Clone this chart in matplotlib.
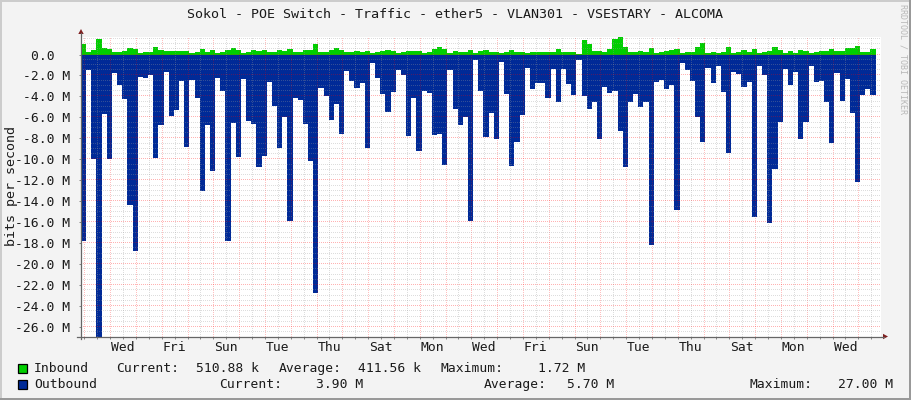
#!/usr/bin/env python3
# -*- coding: utf-8 -*-

import numpy as np
import matplotlib
matplotlib.use('Agg')
import matplotlib.pyplot as plt
from matplotlib.patches import Polygon, Rectangle
from matplotlib.lines import Line2D

title = "Sokol - POE Switch - Traffic - ether5 - VLAN301 - VSESTARY - ALCOMA"
credit = "RRDTOOL / TOBI OETIKER"
y_title = "bits per second"
day_names = ["Wed", "Fri", "Sun", "Tue", "Thu", "Sat", "Mon", "Wed",
	"Fri", "Sun", "Tue", "Thu", "Sat", "Mon", "Wed"]

# megabits per second, one value per 4.8 hour step
inbound = [1.05, 0.2, 0.4, 1.52, 0.67, 0.57, 0.2, 0.28, 0.38, 0.67, 0.57, 0.1, 0.2, 0.2, 0.76, 0.47,
	0.32, 0.38, 0.38, 0.32, 0.32, 0.1, 0.2, 0.57, 0.2, 0.41, 0.13, 0.28, 0.47, 0.63, 0.41, 0.13,
	0.2, 0.41, 0.38, 0.47, 0.2, 0.2, 0.47, 0.38, 0.57, 0.2, 0.2, 0.41, 0.47, 1.05, 0.2, 0.2,
	0.47, 0.63, 0.47, 0.2, 0.2, 0.38, 0.28, 0.38, 0.13, 0.2, 0.38, 0.47, 0.32, 0.1, 0.2, 0.38,
	0.38, 0.38, 0.1, 0.25, 0.57, 0.76, 0.57, 0.1, 0.38, 0.25, 0.25, 0.47, 0.1, 0.38, 0.47, 0.28,
	0.2, 0.1, 0.28, 0.47, 0.28, 0.28, 0.1, 0.2, 0.2, 0.2, 0.28, 0.2, 0.57, 0.2, 0.2, 0.28,
	0.05, 1.43, 1.05, 0.38, 0.32, 0.2, 0.57, 1.52, 1.72, 0.76, 0.2, 0.2, 0.38, 0.28, 0.67, 0.1,
	0.2, 0.38, 0.44, 0.57, 0.1, 0.2, 0.2, 0.76, 1.14, 0.1, 0.2, 0.1, 0.28, 0.76, 0.1, 0.2,
	0.47, 0.28, 0.57, 0.1, 0.2, 0.38, 0.76, 0.47, 0.1, 0.38, 0.1, 0.47, 0.38, 0.1, 0.2, 0.38,
	0.38, 0.57, 0.38, 0.38, 0.67, 0.67, 0.86, 0.2, 0.2, 0.51]

outbound = [17.8, 1.5, 10.0, 27.0, 5.7, 10.0, 1.8, 2.95, 4.2, 14.4, 18.75, 2.1, 2.2, 2.0, 9.9, 6.75,
	1.7, 5.9, 5.3, 2.55, 8.85, 2.4, 4.1, 13.0, 6.75, 11.15, 2.2, 3.5, 17.8, 6.55, 9.8, 2.3,
	6.3, 6.65, 10.75, 9.7, 2.65, 4.95, 8.95, 6.0, 15.9, 4.1, 4.3, 6.65, 10.2, 22.75, 3.15, 4.0,
	6.2, 4.75, 7.6, 1.6, 2.5, 3.15, 2.75, 8.95, 0.85, 2.2, 3.8, 5.5, 3.6, 1.5, 2.0, 7.8,
	4.1, 9.2, 3.45, 3.7, 7.7, 7.6, 10.5, 1.5, 5.15, 6.75, 6.0, 15.9, 0.55, 3.5, 7.9, 5.6,
	8.1, 0.75, 3.8, 10.65, 8.3, 5.8, 1.25, 3.25, 2.75, 2.75, 4.1, 1.35, 4.5, 1.35, 2.85, 3.9,
	0.5, 4.0, 5.15, 4.55, 8.1, 3.05, 3.7, 3.45, 7.25, 10.75, 4.5, 3.8, 5.05, 4.5, 18.2, 2.65,
	2.4, 3.25, 2.95, 14.85, 0.85, 1.5, 2.5, 6.0, 8.3, 1.25, 2.75, 1.05, 3.6, 9.35, 1.7, 1.9,
	3.05, 2.65, 15.5, 1.05, 2.0, 16.1, 10.95, 6.4, 1.4, 2.95, 1.7, 8.1, 6.4, 1.05, 2.65, 2.55,
	4.55, 8.4, 1.8, 4.4, 2.3, 5.6, 12.2, 3.9, 3.25, 3.9]

W = 911
H = 400
FONT = 'DejaVu Sans Mono'
GREEN = '#00CF00'
BLUE = '#002A97'
STEP = 0.2       # days
FIRST_DAY = 0.128  # first midnight, days after the start of the graph
X_MAX = 800/25.8
Y_MIN = -26.9
Y_MAX = 1.72

def fx(px):
	return px/W

def fy(py):
	return 1.0 - py/H

def put(fig, px, py, s, **kw):
	kw.setdefault('fontsize', 9.4)
	kw.setdefault('color', '#1a1a1a')
	kw.setdefault('va', 'baseline')
	fig.text(fx(px), fy(py), s, family=FONT, **kw)

def dots_v(ax, d, col, alpha):
	# one pixel on, one off; agg dashes came out solid
	ys = np.arange(Y_MIN, Y_MAX, 2*(Y_MAX-Y_MIN)/300)
	ax.plot(np.full(ys.shape, d), ys, ',', color=col, alpha=alpha, zorder=4)

def dots_h(ax, v, col, alpha):
	xs = np.arange(0, X_MAX, 2*X_MAX/800)
	ax.plot(xs, np.full(xs.shape, v), ',', color=col, alpha=alpha, zorder=4)

fig = plt.figure(figsize=(W/100, H/100), dpi=100, facecolor='#F3F3F3')

ax = fig.add_axes([fx(81), fy(336.5), 800/W, 300/H], facecolor='white')
for s in ax.spines.values():
	s.set_visible(False)

t = np.arange(len(inbound)+1)*STEP
ax.fill_between(t, np.r_[inbound, inbound[-1]], 0, step='post', color=GREEN, lw=0, zorder=2)
ax.fill_between(t, -np.r_[outbound, outbound[-1]], 0, step='post', color=BLUE, lw=0, zorder=3)

# grid goes over the areas, same as in rrdtool
n_days = 31
midnights = FIRST_DAY + np.arange(n_days)
for d in midnights:
	dots_v(ax, d, '#FF0000', 0.25)
	dots_v(ax, d+0.5, '#999999', 0.33)

y_major = -np.arange(0, 27, 2.0)
y_minor = np.r_[-np.arange(0, 27, 0.5), 0.5, 1.0, 1.5]
for v in y_minor:
	if v % 2 != 0:
		dots_h(ax, v, '#999999', 0.33)
for v in y_major:
	dots_h(ax, v, '#FF0000', 0.3)

ax.set_xlim(0, X_MAX)
ax.set_ylim(Y_MIN, Y_MAX)

ax.set_yticks(y_major)
ax.set_yticklabels(["%.1f M" % v if v != 0 else "0.0  " for v in y_major],
	family=FONT, fontsize=9.4, color='#1a1a1a')

# day names sit at noon, where the half day ticks are too
ax.xaxis.remove_overlapping_locs = False
ax.set_xticks(np.r_[midnights, midnights+0.5])
ax.set_xticklabels([])
label_pos = midnights[1::2][:len(day_names)] + 0.5
ax.set_xticks(label_pos, minor=True)
ax.set_xticklabels(day_names, minor=True, family=FONT, fontsize=9.4, color='#1a1a1a')
ax.tick_params(axis='x', which='major', length=1.5, width=0.72, color='#888888')
ax.tick_params(axis='x', which='minor', length=0, pad=3.5)
ax.tick_params(axis='y', which='major', length=1.5, width=0.72, color='#888888', pad=6)

# axis lines with the little red arrows
axis_col = '#666666'
fig.add_artist(Line2D([fx(81), fx(81)], [fy(339), fy(33)], color=axis_col, lw=0.9))
fig.add_artist(Line2D([fx(77), fx(884)], [fy(336.5), fy(336.5)], color=axis_col, lw=0.9))
fig.add_artist(Polygon([[fx(81), fy(29)], [fx(78.3), fy(34)], [fx(83.7), fy(34)]], closed=True,
	transform=fig.transFigure, fc='#7F1F1F', ec='none'))
fig.add_artist(Polygon([[fx(888), fy(336.5)], [fx(883), fy(333.8)], [fx(883), fy(339.2)]], closed=True,
	transform=fig.transFigure, fc='#7F1F1F', ec='none'))

put(fig, 455, 18, title, ha='center', fontsize=9.6)
put(fig, 12, 185.5, y_title, ha='center', va='center', rotation=90, fontsize=9.6)
put(fig, 903, 59, credit, ha='center', va='center', rotation=-90, fontsize=6, color='#B8B8B8')

# legend
for py, col in ((368, GREEN), (384, BLUE)):
	fig.add_artist(Rectangle((fx(17.5), fy(py+5)), 9.5/W, 9.5/H, transform=fig.transFigure,
		fc=col, ec='black', lw=0.9))

put(fig, 34, 372, "Inbound")
put(fig, 116.5, 372, "Current:")
put(fig, 196, 372, "510.88 k")
put(fig, 279, 372, "Average:")
put(fig, 358.5, 372, "411.56 k")
put(fig, 440.5, 372, "Maximum:")
put(fig, 585, 372, "1.72 M", ha='right')
put(fig, 34, 388, "Outbound")
put(fig, 219.5, 388, "Current:")
put(fig, 315.5, 388, "3.90 M")
put(fig, 484, 388, "Average:")
put(fig, 567, 388, "5.70 M")
put(fig, 749, 388, "Maximum:")
put(fig, 893, 388, "27.00 M", ha='right')

# window border
fig.add_artist(Rectangle((0, 1-2/H), 1, 2/H, transform=fig.transFigure, fc='#CCCCCC', ec='none'))
fig.add_artist(Rectangle((0, 0), 2/W, 1, transform=fig.transFigure, fc='#CCCCCC', ec='none'))
fig.add_artist(Rectangle((0, 0), 1, 2/H, transform=fig.transFigure, fc='#999999', ec='none'))
fig.add_artist(Rectangle((1-2/W, 0), 2/W, 1, transform=fig.transFigure, fc='#999999', ec='none'))

fig.savefig('out.png', dpi=100, facecolor=fig.get_facecolor())
